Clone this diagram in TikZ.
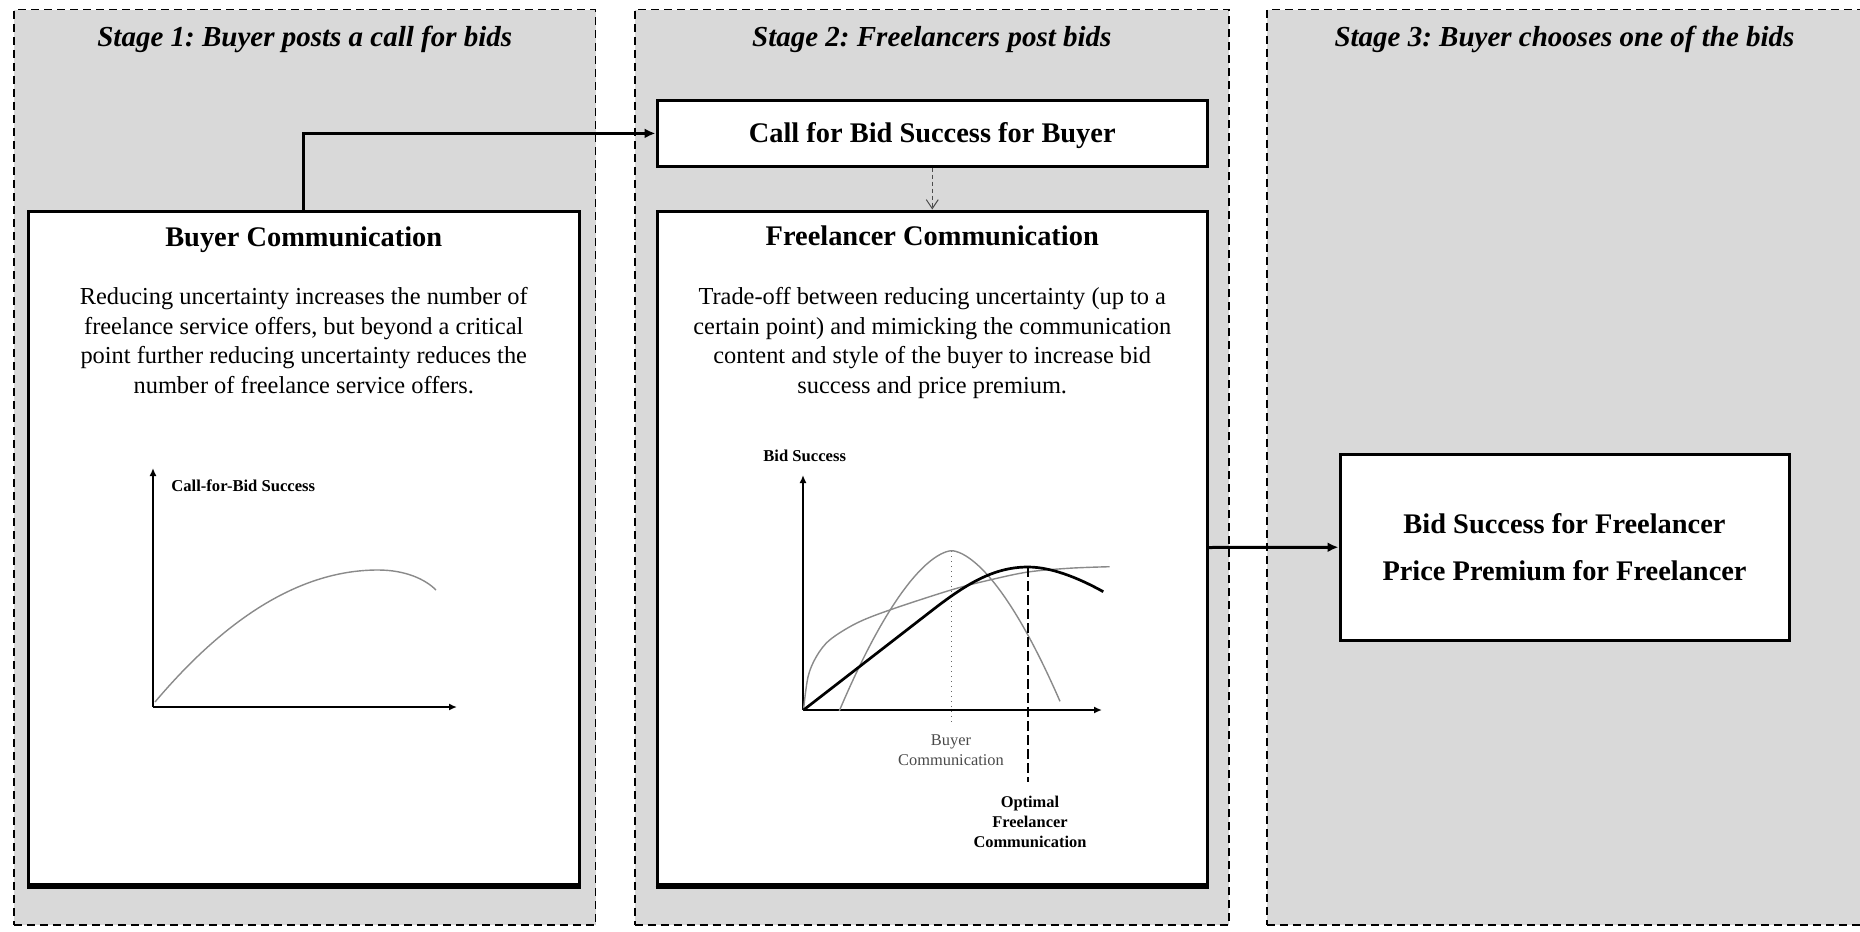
\documentclass[tikz,border=0pt]{standalone}
\usepackage{fontspec}
\setmainfont{Liberation Serif}
\usetikzlibrary{arrows.meta}
\definecolor{panelgray}{HTML}{D9D9D9}
\definecolor{curvegray}{HTML}{8A8A8A}
\definecolor{labelgray}{HTML}{4A4A4A}
\frenchspacing
\begin{document}
\begin{tikzpicture}[x=0.5pt,y=-0.5pt,
  panel/.style={draw=black, fill=panelgray, line width=0.9pt, dash pattern=on 4pt off 2.5pt, inner sep=0pt},
  box/.style={draw=black, fill=white, line width=1.5pt, inner sep=0pt},
  boxfoot/.style={line width=1.4pt},
  stagetitle/.style={font=\fontsize{14.5pt}{17pt}\selectfont\bfseries\itshape},
  heading/.style={font=\fontsize{14.2pt}{17pt}\selectfont\bfseries},
  body/.style={font=\fontsize{12.2pt}{14.75pt}\selectfont, align=center, inner sep=0pt},
  resulttext/.style={font=\fontsize{14.2pt}{23.75pt}\selectfont\bfseries, align=center, inner sep=0pt},
  axislabel/.style={font=\fontsize{8.3pt}{10pt}\selectfont\bfseries, inner sep=0pt},
  ticklabel/.style={font=\fontsize{8.2pt}{10pt}\selectfont, text=labelgray, align=center, inner sep=0pt},
  optlabel/.style={font=\fontsize{8.2pt}{10pt}\selectfont\bfseries, align=center, inner sep=0pt},
  arr/.style={-{Latex[length=5.5pt,width=5pt]}, line width=1.5pt},
  softarr/.style={-{Straight Barb[length=4.5pt,width=6pt]}, draw=black!70, line width=0.5pt, dash pattern=on 2pt off 1.5pt},
  axis/.style={-{Latex[length=4pt,width=3.5pt]}, line width=0.85pt},
  graycurve/.style={draw=curvegray, line width=0.7pt},
  blackcurve/.style={draw=black, line width=1.35pt}
]
\useasboundingbox (0,0) rectangle (1860,932);
\fill[white] (0,0) rectangle (1860,932);

% stage panels
\node[panel, minimum width=290.75pt, minimum height=457.75pt] (p1) at (304.75,467.25) {};
\node[panel, minimum width=297.2pt, minimum height=457.75pt] (p2) at (931.8,467.25) {};
\node[panel, minimum width=297.5pt, minimum height=457.75pt] (p3) at (1564.5,467.25) {};

\node[stagetitle] (t1) at (304.75,39.4) {Stage 1: Buyer posts a call for bids};
\node[stagetitle] (t2) at (931.8,39.4) {Stage 2: Freelancers post bids};
\node[stagetitle] (t3) at (1564.5,39.4) {Stage 3: Buyer chooses one of the bids};

% boxes
\node[box, minimum width=275.25pt, minimum height=336.5pt] (buyer) at (303.75,547.5) {};
\node[box, minimum width=275.25pt, minimum height=32.6pt] (callbid) at (932.25,133.4) {};
\node[box, minimum width=275.25pt, minimum height=336.5pt] (freel) at (932.25,547.5) {};
\node[box, minimum width=224.5pt, minimum height=93.25pt] (result) at (1564.5,547.25) {};
\draw[boxfoot] ([yshift=-0.8pt]buyer.south west) -- ([yshift=-0.8pt]buyer.south east);
\draw[boxfoot] ([yshift=-0.8pt]freel.south west) -- ([yshift=-0.8pt]freel.south east);

\node[heading] (cbtext) at ([yshift=-1.2pt]callbid.center) {Call for Bid Success for Buyer};
\node[resulttext] (rtext) at (result) {Bid Success for Freelancer\\Price Premium for Freelancer};

\node[heading] (bh) at (303.75,239.6) {Buyer Communication};
\node[body] (bt) at (303.75,340.6) {Reducing uncertainty increases the number of\\freelance service offers, but beyond a critical\\point further reducing uncertainty reduces the\\number of freelance service offers.};

\node[heading] (fh) at (932.25,236) {Freelancer Communication};
\node[body] (ft) at (932.25,343.2) {Trade-off between reducing uncertainty (up to a\\certain point) and mimicking the communication\\content and style of the buyer to increase bid\\success and price premium.};

% connectors
\draw[arr] (buyer.north) |- (callbid.west);
\draw[softarr] (callbid.south) -- (freel.north);
\draw[arr] (freel.east) -- (result.west);

% chart 1
\draw[axis] (153,707) -- (153,468);
\draw[axis] (153,707) -- (457,707);
\node[axislabel, anchor=west] (c1lab) at (171,486) {Call-for-Bid Success};
\draw[graycurve] (155,702) .. controls (229.3,614) and (303.7,570) .. (378,570)
                 .. controls (405,570) and (425,579) .. (436,590);

% chart 2
\draw[axis] (803,710) -- (803,475);
\draw[axis] (803,710) -- (1102,710);
\node[axislabel, anchor=west] (c2lab) at (763,456) {Bid Success};
\draw[draw=black!60, line width=0.5pt, dotted] (951.7,551) -- (951.7,723);
\draw[graycurve] plot[domain=839.3:1060, samples=90] (\x, {550.7+0.0662*pow(abs(\x-951.7)+0.01,1.65)});
\draw[graycurve] plot[smooth, tension=0.55] coordinates {(803.5,710) (808,677) (816.3,656.7) (829.7,640) (856.3,623.3) (889.7,610) (951,590) (989.7,580) (1028,572) (1070,568.2) (1109.7,566.7)};
\draw[blackcurve] (803.5,710) -- (930,612)
   .. controls (965,584.7) and (993,567) .. (1028,567)
   .. controls (1055,567) and (1085.3,581.7) .. (1103.3,591.7);
\draw[line width=1pt, dash pattern=on 5pt off 2pt] (1028.3,567) -- (1028.3,782);
\node[ticklabel] (bclab) at (951,750) {Buyer\\Communication};
\node[optlabel] (oflab) at (1030,822) {Optimal\\Freelancer\\Communication};
\end{tikzpicture}
\end{document}
